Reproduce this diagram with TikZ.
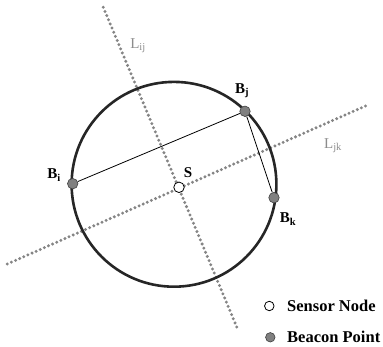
\documentclass[tikz,border=0pt]{standalone}
\usepackage{fontspec}
\setmainfont{Liberation Serif}
\begin{document}
\begin{tikzpicture}[x=1pt,y=-1pt,
  dotline/.style={draw=black!48, line width=3.3pt, line cap=round, dash pattern=on 0pt off 4.5pt},
  beacon/.style={circle, draw=black!75, fill=black!50, line width=0.6pt, minimum size=10.5pt, inner sep=0pt},
  sensor/.style={circle, draw=black, fill=white, line width=0.8pt, minimum size=10.5pt, inner sep=0pt},
  lbl/.style={font=\bfseries\fontsize{15}{15}\selectfont, inner sep=0pt},
  glbl/.style={font=\fontsize{15}{15}\selectfont, inner sep=0pt, text=black!45},
  leg/.style={font=\bfseries\fontsize{16.5}{16.5}\selectfont, inner sep=0pt, anchor=west}]
\useasboundingbox (0,0) rectangle (383,347);
% dotted perpendicular bisectors
\coordinate (lij1) at (103.3,7.3);
\coordinate (lij2) at (238.3,330.7);
\coordinate (ljk1) at (7.3,264);
\coordinate (ljk2) at (369.3,104.3);
\draw[dotline] (lij1) -- (lij2);
\draw[dotline] (ljk1) -- (ljk2);
% circle
\coordinate (c) at (174,184.3);
\draw[line width=2.6pt, black!85] (c) circle[radius=102.4];
% beacons
\node[beacon] (bi) at (72.7,183.7) {};
\node[beacon] (bj) at (245,111.3) {};
\node[beacon] (bk) at (274,197.7) {};
\node[sensor] (s) at (179,187.3) {};
\draw[line width=0.8pt] (bi) -- (bj);
\draw[line width=0.8pt] (bj) -- (bk);
% labels
\node[lbl] (lbi) at (54,175) {B\textsubscript{i}};
\node[lbl] (lbj) at (242,91) {B\textsubscript{j}};
\node[lbl] (lbk) at (288,219) {B\textsubscript{k}};
\node[lbl] (ls) at (188,173) {S};
\node[glbl] (llij) at (138,46) {L\textsubscript{ij}};
\node[glbl] (lljk) at (333,146) {L\textsubscript{jk}};
% legend
\node[sensor, minimum size=9.5pt] (legs) at (269.3,306) {};
\node[beacon, minimum size=9.5pt] (legb) at (270.3,337.3) {};
\node[leg] (legst) at (287,305.5) {Sensor Node};
\node[leg] (legbt) at (287,336.8) {Beacon Point};
\end{tikzpicture}
\end{document}
